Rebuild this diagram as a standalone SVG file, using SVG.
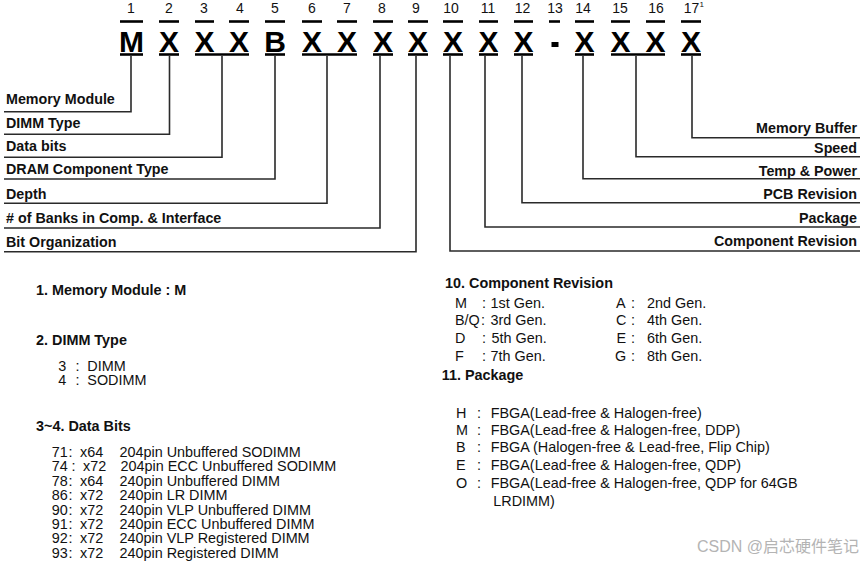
<svg xmlns="http://www.w3.org/2000/svg" width="865" height="563" viewBox="0 0 865 563">
<style>
.num{font-family:"Liberation Sans",Arial,sans-serif;font-size:14px;fill:#111;text-anchor:middle}
.code{font-family:"Liberation Sans",Arial,sans-serif;font-size:30px;font-weight:bold;fill:#000;text-anchor:middle}
.bar{stroke:#000;stroke-width:2.6;fill:none}
.lbl{font-family:"Liberation Sans",Arial,sans-serif;font-size:14.3px;font-weight:bold;fill:#111}
.r{text-anchor:end}
.h{font-family:"Liberation Sans",Arial,sans-serif;font-size:14.4px;font-weight:bold;fill:#111}
.t{font-family:"Liberation Sans",Arial,sans-serif;font-size:14.4px;fill:#111}
.conn{stroke:#2a2a2a;stroke-width:1.6;fill:none}
.wm{font-family:"Liberation Sans","Noto Sans CJK SC",sans-serif;font-size:16px;fill:#b4b4b4}
</style>
<rect width="865" height="563" fill="#fff"/>
<g id="code">
<g id="c1"><text class="num" x="131" y="13">1</text><line class="bar" x1="120" y1="21.5" x2="143" y2="21.5"/><text class="code" x="131.5" y="52">M</text><line class="bar" x1="120" y1="54.5" x2="143" y2="54.5"/></g>
<g id="c2"><text class="num" x="169" y="13">2</text><line class="bar" x1="159" y1="21.5" x2="179" y2="21.5"/><text class="code" x="169" y="52">X</text><line class="bar" x1="159" y1="54.5" x2="179" y2="54.5"/></g>
<g id="c3"><text class="num" x="204" y="13">3</text><line class="bar" x1="195" y1="21.5" x2="214" y2="21.5"/><text class="code" x="204.5" y="52">X</text></g>
<g id="c4"><text class="num" x="240" y="13">4</text><line class="bar" x1="229" y1="21.5" x2="249" y2="21.5"/><text class="code" x="239" y="52">X</text><line class="bar" x1="195" y1="54.5" x2="249" y2="54.5"/></g>
<g id="c5"><text class="num" x="275" y="13">5</text><line class="bar" x1="265" y1="21.5" x2="285" y2="21.5"/><text class="code" x="275" y="52">B</text><line class="bar" x1="265" y1="54.5" x2="285" y2="54.5"/></g>
<g id="c6"><text class="num" x="312" y="13">6</text><line class="bar" x1="302" y1="21.5" x2="322" y2="21.5"/><text class="code" x="312" y="52">X</text></g>
<g id="c7"><text class="num" x="347" y="13">7</text><line class="bar" x1="337" y1="21.5" x2="357" y2="21.5"/><text class="code" x="347" y="52">X</text><line class="bar" x1="302" y1="54.5" x2="357" y2="54.5"/></g>
<g id="c8"><text class="num" x="382" y="13">8</text><line class="bar" x1="373" y1="21.5" x2="393" y2="21.5"/><text class="code" x="383" y="52">X</text><line class="bar" x1="373" y1="54.5" x2="393" y2="54.5"/></g>
<g id="c9"><text class="num" x="416" y="13">9</text><line class="bar" x1="408" y1="21.5" x2="428" y2="21.5"/><text class="code" x="418" y="52">X</text><line class="bar" x1="408" y1="54.5" x2="428" y2="54.5"/></g>
<g id="c10"><text class="num" x="451" y="13">10</text><line class="bar" x1="443" y1="21.5" x2="463" y2="21.5"/><text class="code" x="453" y="52">X</text><line class="bar" x1="443" y1="54.5" x2="463" y2="54.5"/></g>
<g id="c11"><text class="num" x="488" y="13">11</text><line class="bar" x1="479" y1="21.5" x2="498" y2="21.5"/><text class="code" x="488.5" y="52">X</text><line class="bar" x1="479" y1="54.5" x2="498" y2="54.5"/></g>
<g id="c12"><text class="num" x="522.5" y="13">12</text><line class="bar" x1="514" y1="21.5" x2="533" y2="21.5"/><text class="code" x="523.5" y="52">X</text><line class="bar" x1="514" y1="54.5" x2="533" y2="54.5"/></g>
<g id="c13"><text class="num" x="555" y="13">13</text><line class="bar" x1="549" y1="21.5" x2="560" y2="21.5"/><rect x="551.5" y="42" width="7" height="5" fill="#000"/></g>
<g id="c14"><text class="num" x="583" y="13">14</text><line class="bar" x1="575" y1="21.5" x2="594" y2="21.5"/><text class="code" x="584.5" y="52">X</text><line class="bar" x1="575" y1="54.5" x2="594" y2="54.5"/></g>
<g id="c15"><text class="num" x="620" y="13">15</text><line class="bar" x1="611" y1="21.5" x2="630" y2="21.5"/><text class="code" x="620.5" y="52">X</text></g>
<g id="c16"><text class="num" x="656" y="13">16</text><line class="bar" x1="646" y1="21.5" x2="665" y2="21.5"/><text class="code" x="655.5" y="52">X</text><line class="bar" x1="611" y1="54.5" x2="665" y2="54.5"/></g>
<g id="c17"><text class="num" x="691.5" y="13">17</text><text x="699.5" y="7" font-family="Liberation Sans,Arial,sans-serif" font-size="8px" fill="#111">1</text><line class="bar" x1="681" y1="21.5" x2="701" y2="21.5"/><text class="code" x="691" y="52">X</text><line class="bar" x1="681" y1="54.5" x2="701" y2="54.5"/></g>
</g>
<g id="connectors">
<polyline class="conn" points="131,56 131,111.7 4,111.7"/>
<polyline class="conn" points="169.5,56 169.5,134.3 4,134.3"/>
<polyline class="conn" points="222,56 222,157.3 4,157.3"/>
<polyline class="conn" points="275,56 275,179 4,179"/>
<polyline class="conn" points="327,56 327,203.3 4,203.3"/>
<polyline class="conn" points="380,56 380,228 4,228"/>
<polyline class="conn" points="416,56 416,251.7 4,251.7"/>
<polyline class="conn" points="450,56 450,251 860,251"/>
<polyline class="conn" points="485,56 485,227 860,227"/>
<polyline class="conn" points="522,56 522,202.7 860,202.7"/>
<polyline class="conn" points="583,56 583,178.7 860,178.7"/>
<polyline class="conn" points="636,56 636,156.7 860,156.7"/>
<polyline class="conn" points="692,56 692,137.7 860,137.7"/>
</g>
<g id="labels-left">
<text id="l1" class="lbl" x="6" y="104">Memory Module</text>
<text id="l2" class="lbl" x="6" y="127.7">DIMM Type</text>
<text id="l3" class="lbl" x="6" y="151">Data bits</text>
<text id="l4" class="lbl" x="6" y="174">DRAM Component Type</text>
<text id="l5" class="lbl" x="6" y="199">Depth</text>
<text id="l6" class="lbl" x="6" y="222.7"># of Banks in Comp. &amp; Interface</text>
<text id="l7" class="lbl" x="6" y="246.7">Bit Organization</text>
</g>
<g id="labels-right">
<text id="r1" class="lbl r" x="857" y="133.3">Memory Buffer</text>
<text id="r2" class="lbl r" x="857" y="152.7">Speed</text>
<text id="r3" class="lbl r" x="857" y="176">Temp &amp; Power</text>
<text id="r4" class="lbl r" x="857" y="199.3">PCB Revision</text>
<text id="r5" class="lbl r" x="857" y="222.7">Package</text>
<text id="r6" class="lbl r" x="857" y="246">Component Revision</text>
</g>
<g id="sec1"><text class="h" x="36" y="295">1. Memory Module : M</text></g>
<g id="sec2">
<text class="h" x="36" y="345">2. DIMM Type</text>
<text class="t" x="58.3" y="370.7">3</text><text class="t" x="75.5" y="370.7">:</text><text class="t" x="87.3" y="370.7">DIMM</text>
<text class="t" x="58.3" y="385">4</text><text class="t" x="75.5" y="385">:</text><text class="t" x="87.3" y="385">SODIMM</text>
</g>
<g id="sec3">
<text class="h" x="36" y="430.7">3~4. Data Bits</text>
<text class="t" x="51.7" y="457">71</text><text class="t" x="68.5" y="457">:</text><text class="t" x="80" y="457">x64</text><text class="t" x="119.5" y="457">204pin Unbuffered SODIMM</text>
<text class="t" x="51.7" y="471.4">74</text><text class="t" x="71.5" y="471.4">:</text><text class="t" x="83" y="471.4">x72</text><text class="t" x="120.5" y="471.4">204pin ECC Unbuffered SODIMM</text>
<text class="t" x="51.7" y="485.8">78</text><text class="t" x="68.5" y="485.8">:</text><text class="t" x="80" y="485.8">x64</text><text class="t" x="119.5" y="485.8">240pin Unbuffered DIMM</text>
<text class="t" x="51.7" y="500.2">86</text><text class="t" x="68.5" y="500.2">:</text><text class="t" x="80" y="500.2">x72</text><text class="t" x="119.5" y="500.2">240pin LR DIMM</text>
<text class="t" x="51.7" y="514.6">90</text><text class="t" x="68.5" y="514.6">:</text><text class="t" x="80" y="514.6">x72</text><text class="t" x="119.5" y="514.6">240pin VLP Unbuffered DIMM</text>
<text class="t" x="51.7" y="529">91</text><text class="t" x="68.5" y="529">:</text><text class="t" x="80" y="529">x72</text><text class="t" x="119.5" y="529">240pin ECC Unbuffered DIMM</text>
<text class="t" x="51.7" y="543.4">92</text><text class="t" x="68.5" y="543.4">:</text><text class="t" x="80" y="543.4">x72</text><text class="t" x="119.5" y="543.4">240pin VLP Registered DIMM</text>
<text class="t" x="51.7" y="557.8">93</text><text class="t" x="68.5" y="557.8">:</text><text class="t" x="80" y="557.8">x72</text><text class="t" x="119.5" y="557.8">240pin Registered DIMM</text>
</g>
<g id="sec10">
<text class="h" x="445" y="288.3">10. Component Revision</text>
<text class="t" x="455" y="307.7">M</text><text class="t" x="482" y="307.7">:</text><text class="t" x="490.5" y="307.7">1st Gen.</text>
<text class="t" x="455" y="325">B/Q</text><text class="t" x="481" y="325">:</text><text class="t" x="490.5" y="325">3rd Gen.</text>
<text class="t" x="455" y="342.7">D</text><text class="t" x="482" y="342.7">:</text><text class="t" x="491.5" y="342.7">5th Gen.</text>
<text class="t" x="455" y="360.7">F</text><text class="t" x="482" y="360.7">:</text><text class="t" x="490.5" y="360.7">7th Gen.</text>
<text class="t" x="616" y="307.7">A</text><text class="t" x="631" y="307.7">:</text><text class="t" x="647" y="307.7">2nd Gen.</text>
<text class="t" x="616" y="325">C</text><text class="t" x="631" y="325">:</text><text class="t" x="647" y="325">4th Gen.</text>
<text class="t" x="616.5" y="342.7">E</text><text class="t" x="631" y="342.7">:</text><text class="t" x="647" y="342.7">6th Gen.</text>
<text class="t" x="615" y="360.7">G</text><text class="t" x="631" y="360.7">:</text><text class="t" x="647" y="360.7">8th Gen.</text>
</g>
<g id="sec11">
<text class="h" x="441.7" y="380">11. Package</text>
<text class="t" x="456" y="417.5">H</text><text class="t" x="477" y="417.5">:</text><text class="t" x="490.7" y="417.5">FBGA(Lead-free &amp; Halogen-free)</text>
<text class="t" x="456" y="435">M</text><text class="t" x="477" y="435">:</text><text class="t" x="490.7" y="435">FBGA(Lead-free &amp; Halogen-free, DDP)</text>
<text class="t" x="456" y="452">B</text><text class="t" x="477" y="452">:</text><text class="t" x="490.7" y="452">FBGA (Halogen-free &amp; Lead-free, Flip Chip)</text>
<text class="t" x="456" y="469.7">E</text><text class="t" x="477" y="469.7">:</text><text class="t" x="490.7" y="469.7">FBGA(Lead-free &amp; Halogen-free, QDP)</text>
<text class="t" x="456" y="487.5">O</text><text class="t" x="477" y="487.5">:</text><text class="t" x="490.7" y="487.5">FBGA(Lead-free &amp; Halogen-free, QDP for 64GB</text>
<text class="t" x="493.3" y="505.5">LRDIMM)</text>
</g>
<text class="wm" x="697" y="552">CSDN @启芯硬件笔记</text>
</svg>
